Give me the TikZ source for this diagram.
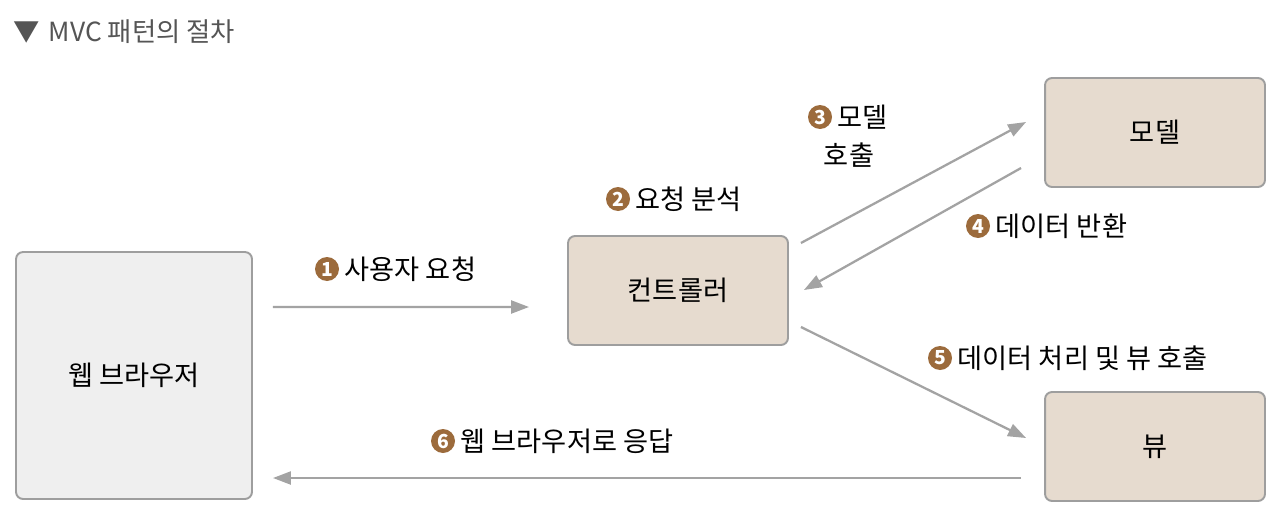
\documentclass[tikz,border=0pt]{standalone}
\usepackage{fontspec}
\setmainfont{Noto Sans CJK KR}
\usetikzlibrary{arrows.meta,positioning,calc}

\definecolor{boxbeige}{RGB}{230,219,207}
\definecolor{boxgray}{RGB}{239,239,239}
\definecolor{edgegray}{RGB}{158,158,158}
\definecolor{flowgray}{RGB}{163,163,163}
\definecolor{badgebrown}{RGB}{156,107,60}
\definecolor{titlegray}{RGB}{85,85,85}

\begin{document}
\begin{tikzpicture}[
    x=0.02cm, y=-0.02cm,
    part/.style={rectangle, rounded corners=4pt, draw=edgegray, line width=1.1pt, fill=boxbeige,
                 minimum width=4.4cm, minimum height=2.18cm, align=center,
                 font=\fontsize{15.5pt}{18pt}\selectfont},
    client/.style={part, fill=boxgray, minimum width=4.72cm, minimum height=4.94cm},
    flow/.style={-{Triangle[length=0.36cm, width=0.26cm]}, line width=1.3pt, flowgray},
    badge/.style={circle, fill=badgebrown, text=white, inner sep=0pt, minimum size=0.48cm,
                  font=\bfseries\fontsize{11pt}{11pt}\selectfont},
    lbl/.style={inner sep=0pt, font=\fontsize{15.5pt}{18pt}\selectfont}
]
    \useasboundingbox (0,0) rectangle (1280,524);

    % Title
    \node[anchor=west, inner sep=0pt, text=titlegray, font=\fontsize{15pt}{18pt}\selectfont]
        (title) at (13,32) {▼\hspace{0.35em}MVC 패턴의 절차};

    % Boxes
    \node[client] (browser) at (134,375.5) {웹 브라우저};
    \node[part] (ctrl) at (678,290.5) {컨트롤러};
    \node[part] (model) at (1155,132.5) {모델};
    \node[part] (view) at (1155,446.5) {뷰};

    % Flow arrows
    \draw[flow] ($(browser.east)+(20,-68.5)$) -- ($(ctrl.west)+(-38,16.5)$);
    \draw[flow] ($(ctrl.east)+(12,-47.5)$) -- ($(model.west)+(-18,-10.5)$);
    \draw[flow] ($(model.west)+(-23,35.5)$) -- ($(ctrl.east)+(15,-0.5)$);
    \draw[flow] ($(ctrl.east)+(12,36.5)$) -- ($(view.west)+(-18,-8.5)$);
    \draw[flow] ($(view.west)+(-23,31.5)$) -- ($(browser.east)+(20,102.5)$);

    % Step labels
    \node[badge] (n1) at (327,269) {1};
    \node[lbl, right=0.1cm of n1] (t1) {사용자 요청};
    \node[badge] (n2) at (618,199) {2};
    \node[lbl, right=0.1cm of n2] (t2) {요청 분석};
    \node[badge] (n3) at (820,117) {3};
    \node[lbl, right=0.1cm of n3] (t3) {모델};
    \node[lbl] (t3b) at (849,155) {호출};
    \node[badge] (n4) at (978,226) {4};
    \node[lbl, right=0.1cm of n4] (t4) {데이터 반환};
    \node[badge] (n5) at (940,358) {5};
    \node[lbl, right=0.1cm of n5] (t5) {데이터 처리 및 뷰 호출};
    \node[badge] (n6) at (443,441) {6};
    \node[lbl, right=0.1cm of n6] (t6) {웹 브라우저로 응답};
\end{tikzpicture}
\end{document}
